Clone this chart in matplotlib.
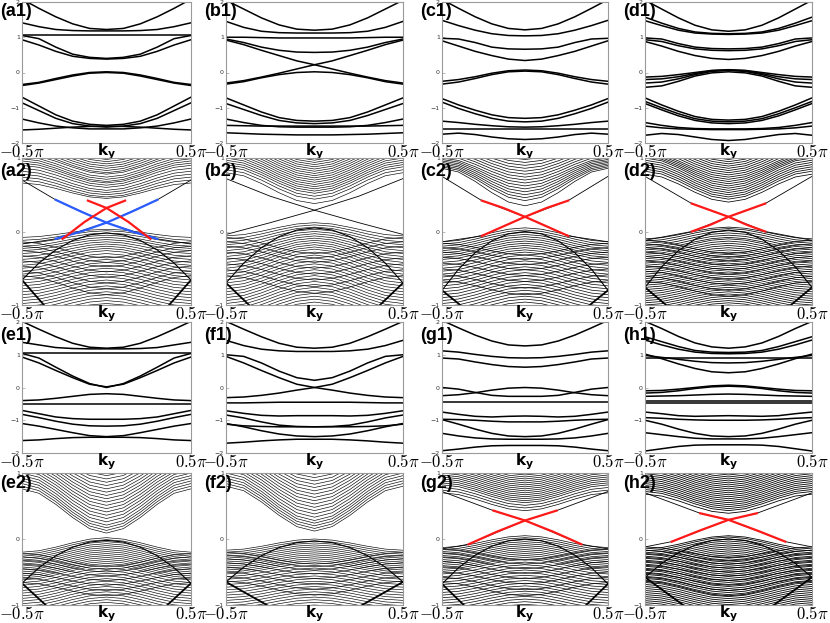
import matplotlib.pyplot as plt

# k points (units of pi) where the bands were read; every band is mirrored about k = 0
k_half = [0.0, 0.1, 0.2, 0.3, 0.4, 0.5]

# ---- few-band panels: energy at k_half for each band ----
a1_bands = [
    [1.22, 1.25, 1.38, 1.58, 1.82, 2.08],
    [1.18, 1.18, 1.19, 1.22, 1.30, 1.41],
    [1.06, 1.06, 1.06, 1.06, 1.06, 1.06],
    [0.40, 0.43, 0.52, 0.72, 0.96, 1.05],
    [0.38, 0.40, 0.46, 0.60, 0.78, 0.93],
    [0.02, 0.00, -0.07, -0.17, -0.28, -0.34],
    [0.00, -0.02, -0.10, -0.20, -0.30, -0.37],
    [-1.50, -1.47, -1.38, -1.20, -0.95, -0.70],
    [-1.55, -1.52, -1.45, -1.30, -1.08, -0.86],
    [-1.60, -1.60, -1.57, -1.52, -1.43, -1.32],
    [-1.52, -1.53, -1.55, -1.58, -1.61, -1.63],
]
b1_bands = [
    [1.20, 1.23, 1.35, 1.55, 1.80, 2.05],
    [1.12, 1.12, 1.13, 1.17, 1.28, 1.45],
    [0.98, 0.98, 0.98, 0.99, 1.00, 1.00],
    [0.57, 0.58, 0.63, 0.72, 0.85, 0.95],
    [0.22, 0.33, 0.48, 0.63, 0.79, 0.92],
    [0.22, 0.10, -0.02, -0.13, -0.23, -0.30],
    [0.02, 0.00, -0.06, -0.15, -0.26, -0.33],
    [-1.38, -1.36, -1.28, -1.12, -0.92, -0.72],
    [-1.45, -1.43, -1.36, -1.22, -1.05, -0.88],
    [-1.55, -1.55, -1.54, -1.50, -1.42, -1.32],
    [-1.52, -1.52, -1.52, -1.52, -1.51, -1.50],
    [-1.77, -1.77, -1.76, -1.75, -1.73, -1.71],
]
c1_bands = [
    [1.21, 1.25, 1.38, 1.58, 1.82, 2.07],
    [1.04, 1.05, 1.10, 1.20, 1.33, 1.48],
    [0.66, 0.67, 0.72, 0.85, 0.95, 0.97],
    [0.34, 0.38, 0.48, 0.60, 0.75, 0.90],
    [0.07, 0.05, -0.02, -0.12, -0.20, -0.25],
    [0.04, 0.02, -0.06, -0.17, -0.27, -0.33],
    [-1.30, -1.28, -1.20, -1.07, -0.92, -0.74],
    [-1.40, -1.38, -1.30, -1.17, -1.02, -0.84],
    [-1.55, -1.54, -1.51, -1.47, -1.42, -1.38],
    [-1.60, -1.60, -1.60, -1.60, -1.60, -1.60],
    [-1.90, -1.88, -1.83, -1.76, -1.72, -1.75],
]
d1_bands = [
    [1.17, 1.21, 1.34, 1.55, 1.80, 2.05],
    [1.10, 1.11, 1.15, 1.25, 1.40, 1.57],
    [1.08, 1.09, 1.12, 1.20, 1.33, 1.47],
    [0.67, 0.68, 0.72, 0.82, 0.95, 0.98],
    [0.62, 0.63, 0.67, 0.76, 0.88, 0.93],
    [0.37, 0.40, 0.48, 0.60, 0.75, 0.88],
    [0.08, 0.06, 0.00, -0.06, -0.11, -0.13],
    [0.07, 0.05, -0.03, -0.12, -0.18, -0.20],
    [0.06, 0.03, -0.06, -0.18, -0.27, -0.30],
    [0.02, -0.01, -0.10, -0.25, -0.38, -0.42],
    [-1.35, -1.33, -1.25, -1.10, -0.92, -0.72],
    [-1.40, -1.38, -1.31, -1.17, -1.00, -0.82],
    [-1.45, -1.43, -1.36, -1.23, -1.06, -0.88],
    [-1.60, -1.60, -1.59, -1.56, -1.50, -1.42],
    [-1.62, -1.62, -1.61, -1.60, -1.57, -1.52],
    [-1.93, -1.90, -1.83, -1.76, -1.73, -1.78],
]
e1_bands = [
    [1.20, 1.23, 1.35, 1.55, 1.78, 2.02],
    [1.18, 1.18, 1.19, 1.22, 1.30, 1.38],
    [1.05, 1.05, 1.05, 1.05, 1.05, 1.05],
    [0.02, 0.10, 0.30, 0.52, 0.75, 0.93],
    [0.00, 0.12, 0.35, 0.62, 0.90, 1.04],
    [-0.19, -0.21, -0.27, -0.33, -0.38, -0.40],
    [-0.50, -0.50, -0.50, -0.50, -0.50, -0.50],
    [-0.97, -0.97, -0.95, -0.90, -0.80, -0.70],
    [-1.18, -1.17, -1.12, -1.03, -0.92, -0.82],
    [-1.50, -1.47, -1.38, -1.28, -1.18, -1.10],
    [-1.52, -1.52, -1.53, -1.56, -1.60, -1.62],
]
f1_bands = [
    [1.20, 1.23, 1.35, 1.55, 1.78, 2.02],
    [1.10, 1.10, 1.12, 1.17, 1.28, 1.44],
    [0.22, 0.30, 0.50, 0.75, 0.95, 1.00],
    [0.00, 0.10, 0.30, 0.52, 0.75, 0.95],
    [0.00, -0.08, -0.17, -0.24, -0.29, -0.31],
    [-0.45, -0.45, -0.45, -0.46, -0.47, -0.47],
    [-0.86, -0.86, -0.87, -0.85, -0.79, -0.71],
    [-1.20, -1.19, -1.15, -1.05, -0.93, -0.84],
    [-1.20, -1.20, -1.20, -1.19, -1.17, -1.12],
    [-1.50, -1.48, -1.42, -1.32, -1.20, -1.10],
    [-1.58, -1.58, -1.60, -1.63, -1.67, -1.70],
]
g1_bands = [
    [1.27, 1.30, 1.42, 1.60, 1.82, 2.05],
    [0.90, 0.91, 0.95, 1.01, 1.08, 1.12],
    [0.62, 0.64, 0.70, 0.78, 0.87, 0.90],
    [0.00, -0.02, -0.08, -0.16, -0.22, -0.25],
    [-0.27, -0.27, -0.24, -0.15, -0.05, 0.00],
    [-0.45, -0.45, -0.45, -0.45, -0.45, -0.45],
    [-0.87, -0.88, -0.90, -0.88, -0.82, -0.75],
    [-1.05, -1.05, -1.03, -1.00, -0.98, -0.97],
    [-1.50, -1.48, -1.40, -1.27, -1.12, -0.98],
    [-1.58, -1.58, -1.57, -1.54, -1.48, -1.40],
    [-1.77, -1.77, -1.78, -1.82, -1.88, -1.93],
]
h1_bands = [
    [1.20, 1.24, 1.36, 1.56, 1.80, 2.02],
    [1.07, 1.08, 1.13, 1.25, 1.40, 1.55],
    [1.03, 1.04, 1.08, 1.17, 1.30, 1.45],
    [0.90, 0.90, 0.90, 0.90, 0.90, 0.90],
    [0.75, 0.76, 0.80, 0.86, 0.92, 0.98],
    [0.45, 0.48, 0.58, 0.72, 0.88, 1.02],
    [0.07, 0.05, 0.00, -0.05, -0.09, -0.10],
    [0.04, 0.02, -0.03, -0.10, -0.15, -0.17],
    [-0.20, -0.21, -0.23, -0.25, -0.26, -0.27],
    [-0.41, -0.41, -0.41, -0.41, -0.41, -0.41],
    [-0.48, -0.48, -0.48, -0.48, -0.48, -0.48],
    [-0.86, -0.87, -0.88, -0.86, -0.80, -0.75],
    [-1.00, -1.00, -0.99, -0.97, -0.94, -0.92],
    [-1.50, -1.48, -1.40, -1.27, -1.12, -1.00],
    [-1.57, -1.57, -1.55, -1.50, -1.44, -1.38],
    [-1.75, -1.75, -1.76, -1.80, -1.87, -1.94],
]

# ---- slab panels: sub-bands given by energy at k=0 (c) and at k=+-0.5pi (e) ----
# band shapes, as fraction of (e - c) at k_half
shape_cos = [0.0, 0.1, 0.35, 0.65, 0.9, 1.0]
shape_par = [0.0, 0.04, 0.16, 0.36, 0.64, 1.0]
shape_lin = [0.0, 0.2, 0.4, 0.6, 0.8, 1.0]

a2_cond_c = [0.45, 0.47, 0.50, 0.53, 0.56, 0.60, 0.63, 0.66, 0.68, 0.71, 0.74, 0.78, 0.80, 0.83, 0.86, 0.89, 0.92, 0.95, 0.98]
a2_cond_e = [0.66, 0.70, 0.74, 0.78, 0.82, 0.86, 0.90, 0.93, 0.96, 0.99, 1.02, 1.05, 1.08, 1.11, 1.14, 1.17, 1.20, 1.25, 1.30]
a2_val_c = [0.03, 0.01, -0.02, -0.05, -0.08, -0.11, -0.14, -0.17, -0.20, -0.23, -0.26, -0.30, -0.34, -0.38, -0.42,
            -0.46, -0.50, -0.54, -0.58, -0.62, -0.66, -0.70, -0.74, -0.78, -0.82, -0.86, -0.90, -0.94, -0.98]
a2_val_e = [-0.08, -0.12, -0.16, -0.20, -0.23, -0.26, -0.30, -0.34, -0.38, -0.42, -0.46, -0.50, -0.54, -0.58, -0.62,
            -0.66, -0.70, -0.74, -0.78, -0.82, -0.86, -0.90, -0.94, -0.98, -1.02, -1.06, -1.10, -1.14, -1.18]
a2_vv_c = [-0.36, -0.42, -0.48, -0.55, -0.62, -0.70, -0.78, -0.86]
a2_vv_e = [-0.14, -0.20, -0.26, -0.33, -0.40, -0.47, -0.54, -0.60]
a2_diag = [-0.02, -1.97, -0.66]          # centre of rising line, centre of falling line, edge
a2_surf_k = [-0.5, -0.3, 0.0, 0.3, 0.5]
a2_surf_E = [-0.17, -0.10, 0.12, 0.43, 0.70]
a2_blue_k = [-0.3, -0.15, 0.0, 0.15, 0.3]
a2_blue_E = [-0.10, 0.00, 0.12, 0.27, 0.43]
a2_red_k = [-0.26, -0.13, 0.0, 0.11]
a2_red_E = [-0.10, 0.13, 0.32, 0.42]

b2_cond_c = [0.38, 0.44, 0.48, 0.52, 0.55, 0.58, 0.61, 0.64, 0.67, 0.70, 0.73, 0.76, 0.79, 0.82, 0.85, 0.88, 0.91, 0.94, 0.97, 1.00]
b2_cond_e = [0.80, 0.84, 0.88, 0.91, 0.94, 0.97, 1.00, 1.03, 1.06, 1.09, 1.12, 1.15, 1.18, 1.21, 1.24, 1.27, 1.30, 1.33, 1.36, 1.39]
b2_val_c = [0.12, 0.09, 0.06, 0.03, 0.00, -0.03, -0.06, -0.09, -0.12, -0.15, -0.18, -0.21, -0.24, -0.28, -0.32, -0.36,
            -0.40, -0.44, -0.48, -0.52, -0.56, -0.60, -0.64, -0.68, -0.72, -0.76, -0.80, -0.84, -0.88, -0.92, -0.96]
b2_val_e = [-0.06, -0.10, -0.14, -0.18, -0.22, -0.26, -0.30, -0.34, -0.38, -0.42, -0.46, -0.50, -0.54, -0.58, -0.62, -0.66,
            -0.70, -0.74, -0.78, -0.82, -0.86, -0.90, -0.94, -0.98, -1.02, -1.06, -1.10, -1.14, -1.18, -1.22, -1.26]
b2_vv_c = [-0.30, -0.36, -0.42, -0.50, -0.58, -0.66, -0.75, -0.84]
b2_vv_e = [-0.08, -0.14, -0.20, -0.28, -0.36, -0.44, -0.52, -0.60]
b2_diag = [0.05, -1.85, -0.70]
b2_surf_k = [-0.5, -0.25, 0.0, 0.25, 0.5]
b2_surf_E = [-0.04, 0.12, 0.29, 0.48, 0.72]

c2_cond_c = [0.35, 0.42, 0.46, 0.50, 0.54, 0.58, 0.62, 0.66, 0.70, 0.74, 0.78, 0.82, 0.86, 0.90, 0.94, 0.98]
c2_cond_e = [0.86, 0.88, 0.90, 0.92, 0.94, 0.96, 0.98, 1.00, 1.03, 1.06, 1.09, 1.12, 1.15, 1.18, 1.21, 1.24]
c2_val_c = [0.05, 0.02, -0.01, -0.04, -0.07, -0.10, -0.13, -0.16, -0.19, -0.22, -0.25, -0.28, -0.32, -0.36, -0.40,
            -0.44, -0.48, -0.52, -0.56, -0.60, -0.64, -0.68, -0.72, -0.76, -0.80, -0.84, -0.88, -0.92, -0.96]
c2_val_e = [-0.14, -0.17, -0.20, -0.23, -0.26, -0.29, -0.32, -0.35, -0.38, -0.42, -0.46, -0.50, -0.54, -0.58, -0.62,
            -0.66, -0.70, -0.74, -0.78, -0.82, -0.86, -0.90, -0.94, -0.98, -1.02, -1.06, -1.10, -1.14, -1.18]
c2_vv_c = [-0.32, -0.38, -0.45, -0.52, -0.60, -0.68, -0.77, -0.86]
c2_vv_e = [-0.16, -0.22, -0.28, -0.35, -0.43, -0.51, -0.59, -0.67]
c2_diag = [0.00, -1.71, -0.80]
c2_surf_k = [-0.5, -0.26, 0.0, 0.26, 0.5]
c2_surf_E = [-0.14, -0.06, 0.20, 0.42, 0.75]
c2_red_k = [-0.26, -0.13, 0.0, 0.13, 0.26]
c2_red_E = [-0.06, 0.07, 0.20, 0.32, 0.42]

d2_cond_c = [0.40, 0.44, 0.47, 0.50, 0.53, 0.56, 0.59, 0.62, 0.65, 0.68, 0.71, 0.74, 0.77, 0.80, 0.83, 0.86, 0.89, 0.92, 0.95, 0.98]
d2_cond_e = [0.78, 0.82, 0.85, 0.88, 0.91, 0.94, 0.97, 1.00, 1.02, 1.04, 1.06, 1.08, 1.11, 1.14, 1.17, 1.20, 1.23, 1.26, 1.29, 1.32]
d2_val_c = [0.06, 0.04, 0.01, -0.02, -0.05, -0.08, -0.10, -0.13, -0.16, -0.19, -0.22, -0.25, -0.28, -0.31, -0.34, -0.37,
            -0.40, -0.43, -0.46, -0.49, -0.52, -0.55, -0.58, -0.61, -0.64, -0.67, -0.70, -0.73, -0.76, -0.79, -0.82,
            -0.85, -0.88, -0.91, -0.94, -0.97, -1.00]
d2_val_e = [-0.10, -0.13, -0.16, -0.19, -0.22, -0.25, -0.28, -0.31, -0.34, -0.37, -0.40, -0.43, -0.46, -0.49, -0.52, -0.55,
            -0.58, -0.61, -0.64, -0.67, -0.70, -0.73, -0.76, -0.79, -0.82, -0.85, -0.88, -0.91, -0.94, -0.97, -1.00,
            -1.03, -1.06, -1.09, -1.12, -1.15, -1.18]
d2_vv_c = [-0.30, -0.35, -0.40, -0.46, -0.52, -0.58, -0.65, -0.72, -0.80, -0.88]
d2_vv_e = [-0.12, -0.17, -0.22, -0.28, -0.34, -0.40, -0.47, -0.54, -0.61, -0.68]
d2_diag = [0.02, -1.71, -0.76]
d2_surf_k = [-0.5, -0.22, 0.0, 0.22, 0.5]
d2_surf_E = [-0.12, 0.00, 0.20, 0.38, 0.75]
d2_red_k = [-0.22, -0.11, 0.0, 0.11, 0.22]
d2_red_E = [0.00, 0.09, 0.20, 0.29, 0.38]

e2_cond_c = [0.09, 0.13, 0.17, 0.21, 0.26, 0.31, 0.36, 0.41, 0.46, 0.51, 0.56, 0.61, 0.66, 0.71, 0.76, 0.81, 0.86, 0.91, 0.96]
e2_cond_e = [0.76, 0.80, 0.84, 0.88, 0.92, 0.96, 1.00, 1.04, 1.08, 1.12, 1.16, 1.20, 1.24, 1.28, 1.32, 1.36, 1.40, 1.44, 1.48]
e2_val_c = [0.02, -0.01, -0.04, -0.07, -0.10, -0.13, -0.16, -0.19, -0.22, -0.25, -0.28, -0.31, -0.34, -0.37, -0.40,
            -0.44, -0.48, -0.52, -0.56, -0.60, -0.64, -0.68, -0.72, -0.76, -0.80, -0.84, -0.88, -0.92, -0.96]
e2_val_e = [-0.20, -0.23, -0.26, -0.29, -0.32, -0.35, -0.38, -0.41, -0.44, -0.47, -0.50, -0.53, -0.56, -0.59, -0.62,
            -0.66, -0.70, -0.74, -0.78, -0.82, -0.86, -0.90, -0.94, -0.98, -1.02, -1.06, -1.10, -1.14, -1.18]
e2_vv_c = [-0.42, -0.46, -0.50, -0.56, -0.63, -0.70, -0.78, -0.86]
e2_vv_e = [-0.22, -0.27, -0.32, -0.38, -0.45, -0.52, -0.59, -0.66]
e2_diag = [-0.02, -1.85, -0.67]

f2_cond_c = [0.12, 0.16, 0.20, 0.24, 0.28, 0.33, 0.38, 0.43, 0.48, 0.53, 0.58, 0.63, 0.68, 0.73, 0.78, 0.83, 0.88, 0.93, 0.98]
f2_cond_e = [0.80, 0.84, 0.88, 0.92, 0.96, 1.00, 1.04, 1.08, 1.12, 1.16, 1.20, 1.24, 1.28, 1.32, 1.36, 1.40, 1.44, 1.48, 1.52]
f2_val_c = [0.00, -0.03, -0.06, -0.09, -0.12, -0.15, -0.18, -0.21, -0.24, -0.27, -0.30, -0.33, -0.36, -0.40, -0.44,
            -0.48, -0.52, -0.56, -0.60, -0.64, -0.68, -0.72, -0.76, -0.80, -0.84, -0.88, -0.92, -0.96, -1.00]
f2_val_e = [-0.17, -0.20, -0.23, -0.26, -0.29, -0.32, -0.35, -0.38, -0.41, -0.44, -0.47, -0.50, -0.53, -0.57, -0.61,
            -0.65, -0.69, -0.73, -0.77, -0.81, -0.85, -0.89, -0.93, -0.97, -1.01, -1.05, -1.09, -1.13, -1.17]
f2_vv_c = [-0.38, -0.42, -0.47, -0.53, -0.60, -0.68, -0.76, -0.85]
f2_vv_e = [-0.20, -0.25, -0.30, -0.36, -0.43, -0.50, -0.57, -0.64]
f2_diag = [-0.03, -1.41, -0.65]

g2_cond_c = [0.43, 0.47, 0.51, 0.55, 0.58, 0.61, 0.64, 0.67, 0.70, 0.73, 0.76, 0.79, 0.82, 0.85, 0.88, 0.91, 0.94, 0.97, 1.00]
g2_cond_e = [0.70, 0.74, 0.78, 0.82, 0.85, 0.88, 0.91, 0.94, 0.97, 1.00, 1.03, 1.06, 1.09, 1.12, 1.15, 1.18, 1.21, 1.24, 1.27]
g2_val_c = [0.05, 0.02, -0.01, -0.04, -0.07, -0.10, -0.13, -0.16, -0.19, -0.22, -0.25, -0.28, -0.31, -0.35, -0.39,
            -0.43, -0.47, -0.51, -0.55, -0.59, -0.63, -0.67, -0.71, -0.75, -0.79, -0.83, -0.87, -0.91, -0.95, -0.99]
g2_val_e = [-0.13, -0.16, -0.19, -0.22, -0.25, -0.28, -0.31, -0.34, -0.37, -0.40, -0.43, -0.46, -0.49, -0.53, -0.57,
            -0.61, -0.65, -0.69, -0.73, -0.77, -0.81, -0.85, -0.89, -0.93, -0.97, -1.01, -1.05, -1.09, -1.13, -1.17]
g2_vv_c = [-0.32, -0.38, -0.45, -0.52, -0.60, -0.68, -0.77, -0.86]
g2_vv_e = [-0.15, -0.21, -0.27, -0.34, -0.42, -0.50, -0.58, -0.66]
g2_diag = [0.00, -1.90, -0.68]
g2_surf_k = [-0.5, -0.34, 0.0, 0.19, 0.5]
g2_surf_E = [-0.15, -0.08, 0.28, 0.43, 0.72]
g2_red_k = [-0.34, -0.17, 0.0, 0.19]
g2_red_E = [-0.08, 0.11, 0.28, 0.43]

h2_cond_c = [0.39, 0.43, 0.46, 0.49, 0.52, 0.55, 0.58, 0.61, 0.64, 0.67, 0.70, 0.73, 0.76, 0.79, 0.82, 0.85, 0.88, 0.91, 0.94, 0.97, 1.00]
h2_cond_e = [0.68, 0.72, 0.75, 0.78, 0.81, 0.84, 0.87, 0.90, 0.93, 0.96, 0.99, 1.02, 1.05, 1.08, 1.11, 1.14, 1.17, 1.20, 1.23, 1.26, 1.29]
h2_val_c = [0.05, 0.03, 0.00, -0.03, -0.06, -0.09, -0.12, -0.15, -0.18, -0.21, -0.24, -0.27, -0.30, -0.33, -0.36, -0.39,
            -0.42, -0.45, -0.48, -0.51, -0.54, -0.57, -0.60, -0.63, -0.66, -0.69, -0.72, -0.75, -0.78, -0.81, -0.84,
            -0.87, -0.90, -0.93, -0.96, -0.99]
h2_val_e = [-0.15, -0.18, -0.21, -0.24, -0.27, -0.30, -0.33, -0.36, -0.39, -0.42, -0.45, -0.48, -0.51, -0.54, -0.57, -0.60,
            -0.63, -0.66, -0.69, -0.72, -0.75, -0.78, -0.81, -0.84, -0.87, -0.90, -0.93, -0.96, -0.99, -1.02, -1.05,
            -1.08, -1.11, -1.14, -1.17, -1.20]
h2_vv_c = [-0.28, -0.33, -0.38, -0.44, -0.50, -0.56, -0.63, -0.70, -0.78, -0.86]
h2_vv_e = [-0.12, -0.17, -0.22, -0.28, -0.34, -0.40, -0.46, -0.52, -0.58, -0.64]
h2_diag = [0.00, -1.50, -0.58]
h2_surf_k = [-0.5, -0.34, 0.0, 0.17, 0.5]
h2_surf_E = [-0.12, -0.04, 0.29, 0.39, 0.70]
h2_red_k = [-0.34, -0.17, 0.0, 0.17]
h2_red_E = [-0.04, 0.13, 0.29, 0.39]

# ---- layout (pixel boxes of the panels) ----
W, H = 830, 623
col_px = [(22, 191), (226, 403), (442, 608), (645, 812)]
row_px = [(2, 143), (158, 305), (322, 453), (473, 605)]
label_drop = [1, 5, 5, 2]

few_panels = [("a1", a1_bands, 0, 0), ("b1", b1_bands, 1, 0), ("c1", c1_bands, 2, 0), ("d1", d1_bands, 3, 0),
              ("e1", e1_bands, 0, 2), ("f1", f1_bands, 1, 2), ("g1", g1_bands, 2, 2), ("h1", h1_bands, 3, 2)]

RED, BLUE = "#ff1a1a", "#2a5cff"
dense_panels = [
    dict(name="a2", col=0, row=1, lw=0.45, cc=a2_cond_c, ce=a2_cond_e, vc=a2_val_c, ve=a2_val_e, wc=a2_vv_c,
         we=a2_vv_e, diag=a2_diag, surf=(a2_surf_k, a2_surf_E),
         colored=[(a2_blue_k, a2_blue_E, BLUE), (a2_red_k, a2_red_E, RED)]),
    dict(name="b2", col=1, row=1, lw=0.45, cc=b2_cond_c, ce=b2_cond_e, vc=b2_val_c, ve=b2_val_e, wc=b2_vv_c,
         we=b2_vv_e, diag=b2_diag, surf=(b2_surf_k, b2_surf_E), colored=[]),
    dict(name="c2", col=2, row=1, lw=0.5, cc=c2_cond_c, ce=c2_cond_e, vc=c2_val_c, ve=c2_val_e, wc=c2_vv_c,
         we=c2_vv_e, diag=c2_diag, surf=(c2_surf_k, c2_surf_E), colored=[(c2_red_k, c2_red_E, RED)]),
    dict(name="d2", col=3, row=1, lw=0.55, cc=d2_cond_c, ce=d2_cond_e, vc=d2_val_c, ve=d2_val_e, wc=d2_vv_c,
         we=d2_vv_e, diag=d2_diag, surf=(d2_surf_k, d2_surf_E), colored=[(d2_red_k, d2_red_E, RED)]),
    dict(name="e2", col=0, row=3, lw=0.45, cc=e2_cond_c, ce=e2_cond_e, vc=e2_val_c, ve=e2_val_e, wc=e2_vv_c,
         we=e2_vv_e, diag=e2_diag, surf=None, colored=[]),
    dict(name="f2", col=1, row=3, lw=0.45, cc=f2_cond_c, ce=f2_cond_e, vc=f2_val_c, ve=f2_val_e, wc=f2_vv_c,
         we=f2_vv_e, diag=f2_diag, surf=None, colored=[]),
    dict(name="g2", col=2, row=3, lw=0.5, cc=g2_cond_c, ce=g2_cond_e, vc=g2_val_c, ve=g2_val_e, wc=g2_vv_c,
         we=g2_vv_e, diag=g2_diag, surf=(g2_surf_k, g2_surf_E), colored=[(g2_red_k, g2_red_E, RED)]),
    dict(name="h2", col=3, row=3, lw=0.6, cc=h2_cond_c, ce=h2_cond_e, vc=h2_val_c, ve=h2_val_e, wc=h2_vv_c,
         we=h2_vv_e, diag=h2_diag, surf=(h2_surf_k, h2_surf_E), colored=[(h2_red_k, h2_red_E, RED)]),
]


def mirror(vals):
    ks = [-k for k in k_half[::-1]] + k_half[1:]
    es = list(vals[::-1]) + list(vals[1:])
    return ks, es


def sub_band(c, e, shape):
    return [c + (e - c) * p for p in shape]


def make_axes(name, col, row, ylim, yticks):
    x0, x1 = col_px[col]
    y0, y1 = row_px[row]
    ax = fig.add_axes([x0 / W, 1 - y1 / H, (x1 - x0) / W, (y1 - y0) / H])
    ax.patch.set_visible(False)
    ax.set_xlim(-0.5, 0.5)
    ax.set_ylim(*ylim)
    ax.set_yticks(yticks)
    ax.set_yticklabels([f"{t:g}".replace("-", "\u2212") for t in yticks], fontsize=4.5)
    ax.tick_params(axis="y", direction="in", length=2, width=0.4, pad=1.5, colors="#888888", labelcolor="#333333")
    ax.set_xticks([-0.5, 0.5])
    ax.set_xticklabels([r"$-0.5\pi$", r"$0.5\pi$"], fontsize=12)
    for lab in ax.get_xticklabels():
        lab.set_math_fontfamily("cm")
    ax.tick_params(axis="x", length=0, pad=0.0)
    for sp in ax.spines.values():
        sp.set_color("#9a9a9a")
        sp.set_linewidth(0.8)
    ax.text(0.5, 0.012, r"$\mathbf{k}_\mathbf{y}$", transform=ax.transAxes, ha="center", va="top",
            fontsize=11, math_fontfamily="dejavusans", zorder=10)
    fig.text((x0 - 22) / W, 1 - (y0 + label_drop[row]) / H, f"({name})", ha="left", va="top",
             fontsize=13, fontweight="bold", family="Liberation Sans")
    return ax


fig = plt.figure(figsize=(W / 100, H / 100), dpi=100)

for name, bands, col, row in few_panels:
    ax = make_axes(name, col, row, (-2, 2), [-2, -1, 0, 1, 2])
    for b in bands:
        ax.plot(*mirror(b), color="black", lw=1.1)

for p in dense_panels:
    ax = make_axes(p["name"], p["col"], p["row"], (-1, 1), [-1, 0, 1])
    lw = p["lw"]
    for c, e in zip(p["cc"], p["ce"]):
        ax.plot(*mirror(sub_band(c, e, shape_cos)), color="black", lw=lw)
    for c, e in zip(p["vc"], p["ve"]):
        ax.plot(*mirror(sub_band(c, e, shape_cos)), color="black", lw=lw)
    for c, e in zip(p["wc"], p["we"]):
        ax.plot(*mirror(sub_band(c, e, shape_cos)), color="black", lw=lw)
    up_c, down_c, edge = p["diag"]
    ax.plot(*mirror(sub_band(up_c, edge, shape_par)), color="black", lw=0.8)
    ax.plot(*mirror(sub_band(down_c, edge, shape_lin)), color="black", lw=1.3)
    if p["surf"] is not None:
        sk, sE = p["surf"]
        ax.plot(sk, sE, color="black", lw=0.6)
        ax.plot([-k for k in sk], sE, color="black", lw=0.6)
    for ck, cE, colr in p["colored"]:
        ax.plot(ck, cE, color=colr, lw=1.6, zorder=4)
        ax.plot([-k for k in ck], cE, color=colr, lw=1.6, zorder=4)

fig.savefig("out.png", dpi=100, facecolor="white")
